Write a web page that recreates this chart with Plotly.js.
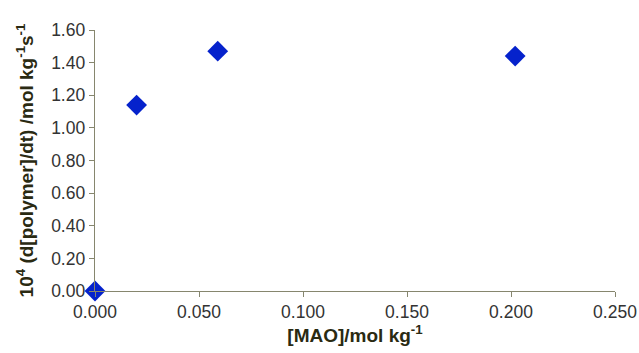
<!DOCTYPE html>
<html>
<head>
<meta charset="utf-8">
<script src="https://cdn.plot.ly/plotly-3.0.1.min.js"></script>
<style>html,body{margin:0;padding:0;background:#fff;}#chart{width:639px;height:353px;}</style>
</head>
<body>
<div id="chart"></div>
<script>
const maoConc = [0.000, 0.020, 0.059, 0.202];
const rate = [0.00, 1.14, 1.47, 1.44];
const xTickVals = [0, 0.05, 0.10, 0.15, 0.20, 0.25];
const yTickVals = [0, 0.2, 0.4, 0.6, 0.8, 1.0, 1.2, 1.4, 1.6];

const axisColor = '#86866e';
const titleColor = '#2a2a12';
const tickFont = {family: 'Liberation Sans, Arial, sans-serif', size: 17.5, color: '#333333'};
const titleFont = {family: 'Liberation Sans, Arial, sans-serif', size: 19, color: titleColor};

Plotly.newPlot('chart', [{
  x: maoConc, y: rate, type: 'scatter', mode: 'markers',
  marker: {symbol: 'diamond', size: 16, color: '#0522cc'},
  cliponaxis: false, hoverinfo: 'none'
}], {
  width: 639, height: 353,
  margin: {l: 95, r: 24, t: 30, b: 62},
  paper_bgcolor: '#fff', plot_bgcolor: '#fff',
  showlegend: false,
  xaxis: {
    range: [0, 0.25], tickvals: xTickVals, tickformat: '.3f',
    showgrid: false, zeroline: false, showline: true, linecolor: axisColor, linewidth: 1.3,
    ticks: 'outside', ticklen: 5, tickcolor: axisColor, tickfont: tickFont,
    title: {text: '<b>[MAO]/mol kg<sup>-1</sup></b>', font: titleFont, standoff: 6}
  },
  yaxis: {
    range: [0, 1.6], tickvals: yTickVals, tickformat: '.2f',
    showgrid: false, zeroline: false, showline: true, linecolor: axisColor, linewidth: 1.3,
    ticks: 'outside', ticklen: 5, tickcolor: axisColor, tickfont: tickFont,
    title: {text: '<b>10<sup>4</sup> (d[polymer]/dt) /mol kg<sup>-1</sup>s<sup>-1</sup></b>', font: titleFont, standoff: 12}
  }
}, {displayModeBar: false, staticPlot: true});
</script>
</body>
</html>
